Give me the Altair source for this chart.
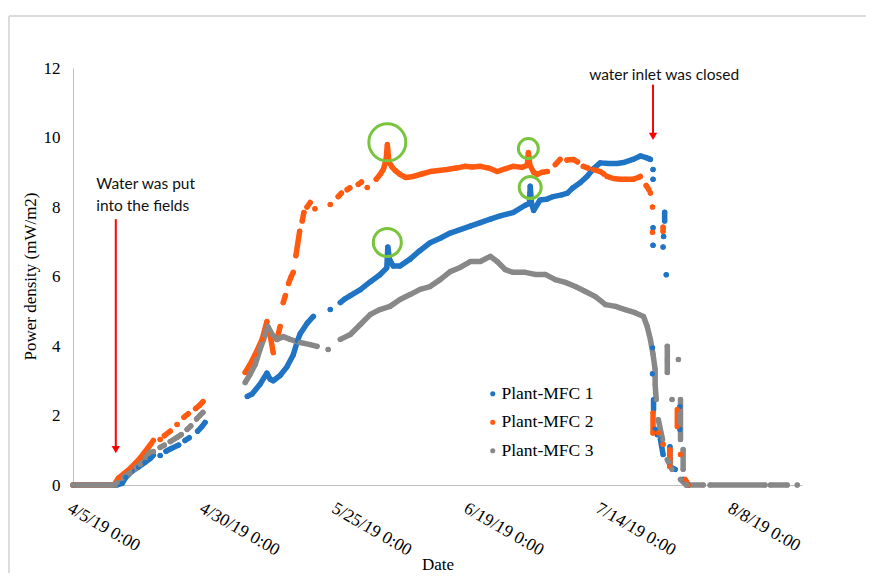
import altair as alt
import pandas as pd

BASE = pd.Timestamp("2019-04-05", tz="UTC")
series_names = ["Plant-MFC 1", "Plant-MFC 2", "Plant-MFC 3"]
series_colors = ["#1f74c4", "#ff5a10", "#888888"]

tick_dates = ["2019-04-05", "2019-04-30", "2019-05-25", "2019-06-19", "2019-07-14", "2019-08-08"]
y_ticks = [0, 2, 4, 6, 8, 10, 12]

# (day offset from 4/5/19, power density) grouped into contiguous runs of points
mfc1_runs = [
    [(0, 0), (7.8, 0)],
    [(8.3, 0), (9.3, 0.05), (10.0, 0.22), (11.2, 0.4), (12.4, 0.52), (13.6, 0.65), (14.6, 0.76), (15.2, 0.86)],
    [(16.5, 0.85)],
    [(17.6, 0.97), (18.6, 1.05), (20.0, 1.15)],
    [(21.2, 1.28), (22.0, 1.36)],
    [(23.6, 1.55), (24.4, 1.68), (25.0, 1.8)],
    [(33.0, 2.55), (33.9, 2.62), (35.4, 2.9), (36.7, 3.22), (37.3, 3.05), (37.9, 3.0), (39.2, 3.15),
     (40.5, 3.4), (41.7, 3.75), (42.5, 4.15), (43.0, 4.35), (44.3, 4.65), (45.5, 4.85)],
    [(48.7, 5.05)],
    [(50.6, 5.25), (51.4, 5.35), (52.5, 5.45), (54.4, 5.62), (56.3, 5.85), (58.1, 6.05), (59.4, 6.25),
     (59.6, 6.85), (59.9, 6.5), (60.6, 6.3), (61.9, 6.3), (63.8, 6.5), (65.7, 6.75), (67.6, 6.97),
     (69.5, 7.1), (71.4, 7.25), (73.3, 7.35), (75.2, 7.45), (77.1, 7.55), (79.0, 7.65), (81.0, 7.75),
     (83.3, 7.84), (85.6, 8.05), (86.4, 8.1), (86.55, 8.6), (86.8, 8.1), (87.2, 7.9), (88.4, 8.2),
     (89.6, 8.22), (90.9, 8.3), (92.5, 8.35), (93.6, 8.4), (94.6, 8.55), (96.0, 8.7), (97.3, 8.88),
     (98.5, 9.1), (99.8, 9.27), (101.5, 9.25), (103.0, 9.25), (104.2, 9.28), (106.0, 9.37),
     (107.4, 9.47), (108.5, 9.42), (109.3, 9.37)],
    [(109.8, 9.08)], [(109.8, 8.8)], [(109.8, 7.4)], [(109.8, 6.9)], [(112.0, 7.85), (112.0, 7.6)],
    [(111.8, 7.15)], [(111.7, 6.85)], [(112.3, 6.05)],
    [(109.7, 3.95)], [(109.7, 3.2)], [(109.9, 2.45), (109.9, 2.17)], [(110.2, 1.6), (110.6, 1.45)],
    [(111.2, 1.31), (111.7, 0.88)], [(113.0, 1.1), (113.0, 0.53), (114.0, 0.45)],
    [(114.9, 2.26), (114.9, 1.6)], [(115.5, 0.16), (116.5, 0)],
]

mfc2_runs = [
    [(0, 0), (7.8, 0)],
    [(8.0, 0.05), (8.6, 0.2), (10.8, 0.47), (12.7, 0.77), (14.6, 1.15), (15.2, 1.28)],
    [(16.5, 1.31)],
    [(17.3, 1.42), (18.4, 1.55)],
    [(19.7, 1.74)],
    [(21.0, 1.95), (21.8, 2.05)],
    [(23.2, 2.2), (24.0, 2.3), (24.6, 2.4)],
    [(32.6, 3.24), (33.5, 3.47), (34.5, 3.76), (35.8, 4.19), (36.7, 4.7)],
    [(37.3, 4.33), (37.9, 3.81)],
    [(38.6, 4.19), (39.2, 4.56)],
    [(39.8, 5.25), (40.2, 5.45)],
    [(40.8, 5.8), (41.3, 6.0), (41.7, 6.12)],
    [(42.2, 6.6), (42.5, 6.9), (42.9, 7.3)],
    [(43.4, 7.6), (43.7, 7.84)],
    [(44.3, 8.0), (44.9, 8.13)],
    [(45.8, 7.95)],
    [(48.7, 8.07)],
    [(50.2, 8.3), (50.8, 8.4)],
    [(51.9, 8.5), (52.4, 8.55)],
    [(54.0, 8.65), (54.6, 8.72)],
    [(55.7, 8.56)],
    [(57.4, 8.8), (58.2, 8.95), (58.8, 9.1), (59.3, 9.4), (59.5, 9.8), (59.8, 9.3), (60.4, 9.15),
     (61.0, 9.05), (61.9, 8.94), (63.0, 8.85), (64.4, 8.88), (66.0, 8.95), (67.6, 9.02), (69.2, 9.05),
     (70.8, 9.08), (72.5, 9.12), (74.2, 9.17), (75.6, 9.15), (77.1, 9.17), (78.7, 9.12), (80.3, 9.02),
     (81.8, 9.1), (83.3, 9.17), (85.0, 9.14), (86.0, 9.2), (86.2, 9.57), (86.5, 9.2), (87.2, 9.0),
     (87.9, 8.94), (88.8, 9.0), (89.8, 9.02)],
    [(91.3, 9.22), (92.2, 9.37)],
    [(93.5, 9.35), (94.7, 9.37), (95.5, 9.3)],
    [(96.6, 9.17), (97.5, 9.12)],
    [(98.5, 9.08), (99.8, 9.02), (100.5, 8.95)],
    [(101.1, 8.88), (102.3, 8.82), (103.6, 8.8), (104.8, 8.8), (106.1, 8.8), (107.0, 8.85), (107.4, 8.88)],
    [(108.5, 8.62), (109.0, 8.5)],
    [(109.3, 8.4)], [(109.7, 8.0)], [(109.7, 7.27)], [(111.7, 7.42), (111.7, 7.3)],
    [(109.8, 2.08), (109.8, 1.5)], [(110.8, 1.5)], [(111.7, 1.17)], [(113.0, 1.02), (113.0, 0.53)],
    [(114.4, 2.17), (114.4, 1.68)], [(115.0, 0.88)], [(115.9, 0.16), (116.5, 0)],
]

mfc3_runs = [
    [(0, 0), (7.6, 0)],
    [(8.0, 0), (8.3, 0.07), (10.8, 0.36), (12.7, 0.59), (14.6, 0.94), (15.2, 0.96)],
    [(16.5, 1.08), (17.3, 1.15)],
    [(18.4, 1.25), (19.7, 1.37), (20.5, 1.45)],
    [(21.6, 1.6), (22.3, 1.7)],
    [(23.4, 1.9), (24.0, 2.0), (24.6, 2.09)],
    [(32.6, 2.95), (33.5, 3.18), (34.5, 3.47), (35.4, 3.9), (36.4, 4.33), (36.9, 4.56), (37.7, 4.33),
     (38.6, 4.19), (39.8, 4.27), (41.1, 4.19), (43.0, 4.1), (44.9, 4.04), (46.2, 3.99)],
    [(48.3, 3.9)],
    [(50.6, 4.19), (52.5, 4.33), (54.4, 4.62), (56.3, 4.91), (58.1, 5.05), (60.0, 5.14), (61.9, 5.34),
     (63.8, 5.48), (65.7, 5.63), (67.6, 5.71), (69.5, 5.91), (71.4, 6.14), (73.3, 6.26), (75.2, 6.43),
     (77.1, 6.43), (79.0, 6.58), (80.3, 6.43), (81.8, 6.2), (83.3, 6.12), (85.6, 6.12), (87.5, 6.06),
     (89.4, 6.06), (91.3, 5.91), (93.2, 5.83), (95.1, 5.71), (97.0, 5.57), (98.9, 5.42), (100.8, 5.19),
     (102.7, 5.14), (104.5, 5.05), (106.4, 4.96), (108.0, 4.85), (108.7, 4.56), (109.3, 4.19),
     (109.8, 3.76), (110.2, 3.32), (110.2, 2.89), (110.4, 2.46)],
    [(110.8, 1.88), (111.6, 1.31)], [(112.5, 0.73), (113.4, 0.45)], [(115.0, 0.16), (116.1, 0)],
    [(112.5, 3.99), (112.5, 3.6), (112.5, 3.24)], [(114.6, 3.61)], [(113.4, 2.46)],
    [(115.0, 2.46), (115.0, 1.9), (115.0, 1.31)], [(115.5, 1.02), (115.5, 0.45)],
    [(116.1, 0), (119.3, 0)], [(120.6, 0), (131.0, 0)], [(132.0, 0), (135.2, 0)], [(137.1, 0)],
]

# annotations: green highlight rings (day, value, ring diameter in px)
ring_day = [59.5, 59.5, 86.2, 86.55]
ring_val = [9.86, 6.98, 9.68, 8.56]
ring_diam = [37, 28, 20, 22]

# red arrows (day, top value, tip value)
arrow_day = [8.1, 109.8]
arrow_top = [7.65, 11.52]
arrow_tip = [1.02, 10.03]

# text notes
note_text = ["Water was put", "into the fields", "water inlet was closed"]
note_day = [4.4, 4.4, 111.9]
note_val = [8.65, 8.02, 11.81]
note_align = ["left", "left", "center"]


def iso(day):
    return (BASE + pd.to_timedelta(day, unit="D")).strftime("%Y-%m-%dT%H:%M:%SZ")


rows = []
for name, runs in zip(series_names, [mfc1_runs, mfc2_runs, mfc3_runs]):
    for i, run in enumerate(runs):
        for d, v in run:
            rows.append({"Series": name, "run": f"{name}-{i}", "Date": iso(d), "Power": v})
df = pd.DataFrame(rows)

rings = pd.DataFrame({"Date": [iso(d) for d in ring_day], "Power": ring_val,
                      "size": [dd * dd for dd in ring_diam]})
arrows = pd.DataFrame({"Date": [iso(d) for d in arrow_day], "top": arrow_top, "tip": arrow_tip})
notes = pd.DataFrame({"Date": [iso(d) for d in note_day], "Power": note_val,
                      "text": note_text, "align": note_align})


def dt(s):
    y, m, d = (int(p) for p in s.split("-"))
    return alt.DateTime(year=y, month=m, date=d, utc=True)


SERIF = "Liberation Serif, Times New Roman, serif"

x_scale = alt.Scale(type="utc", domain=[dt("2019-04-05"), dt("2019-08-21")])
y_scale = alt.Scale(domain=[0, 12], nice=False)
color_scale = alt.Scale(domain=series_names, range=series_colors)

x_axis = alt.Axis(
    values=[dt(s) for s in tick_dates],
    labelExpr="utcFormat(datum.value, '%-m/%-d/%y %-H:%M')",
    labelAngle=30, labelAlign="left", labelBaseline="top", labelPadding=14,
    labelFont=SERIF, labelFontSize=17.5, labelColor="#000000",
    ticks=False, grid=False, domainColor="#bfbfbf", labelOverlap=False,
    title="Date", titleFont=SERIF, titleFontSize=17, titleFontWeight="normal",
    titleColor="#000000", titleY=79, titleBaseline="middle",
)
y_axis = alt.Axis(
    values=y_ticks, labelFont=SERIF, labelFontSize=17, labelColor="#000000",
    labelPadding=13, ticks=False, grid=False, domainColor="#bfbfbf",
    title="Power density (mW/m2)", titleFont=SERIF, titleFontSize=17,
    titleFontWeight="normal", titleColor="#000000", titleX=-43, titleY=208,
    titleBaseline="middle", titleAlign="center",
)

X = alt.X("Date:T", scale=x_scale, axis=x_axis)
Y = alt.Y("Power:Q", scale=y_scale, axis=y_axis)

# one line layer per series (fixed colour) so the legend comes only from the points
line_layers = [
    alt.Chart(df[df["Series"] == name]).mark_line(
        strokeWidth=5.5, strokeCap="round", strokeJoin="round", color=col
    ).encode(x=X, y=Y, detail="run:N")
    for name, col in zip(series_names, series_colors)
]

points = alt.Chart(df).mark_circle(size=26, opacity=1).encode(
    x=X, y=Y,
    color=alt.Color("Series:N", scale=color_scale, legend=alt.Legend(
        title=None, orient="none", legendX=411, legendY=317, symbolType="circle",
        symbolSize=26, labelFont=SERIF, labelFontSize=17.5, labelColor="#000000",
        labelOffset=0, rowPadding=9.5, padding=0)),
)

ring_layer = alt.Chart(rings).mark_point(shape="circle", filled=False, color="#78c43c",
                                         strokeWidth=3, opacity=1).encode(
    x="Date:T", y="Power:Q", size=alt.Size("size:Q", scale=None))

arrow_lines = alt.Chart(arrows).mark_rule(color="#ff0000", strokeWidth=2).encode(
    x="Date:T", y="top:Q", y2="tip:Q")
arrow_heads = alt.Chart(arrows).mark_point(shape="triangle-down", filled=True, color="#ff0000",
                                           size=70, opacity=1).encode(
    x="Date:T", y="tip:Q")

notes_left = alt.Chart(notes[notes["align"] == "left"]).mark_text(
    align="left", baseline="middle", font="Lato", fontSize=15.5, color="#111111").encode(
    x="Date:T", y="Power:Q", text="text:N")
notes_center = alt.Chart(notes[notes["align"] == "center"]).mark_text(
    align="center", baseline="middle", font="Lato", fontSize=15.5, color="#111111").encode(
    x="Date:T", y="Power:Q", text="text:N")

one = pd.DataFrame({"k": [0]})
frame_top = alt.Chart(one).mark_rule(color="#d0d0d0", strokeWidth=1.5).encode(
    x=alt.value(-64), x2=alt.value(900), y=alt.value(-52))
frame_left = alt.Chart(one).mark_rule(color="#d0d0d0", strokeWidth=1.5).encode(
    x=alt.value(-64), y=alt.value(-52), y2=alt.value(560))

chart = alt.layer(
    frame_top, frame_left, *line_layers, points, ring_layer, arrow_lines, arrow_heads,
    notes_left, notes_center,
).properties(
    width=729, height=417,
    padding={"left": 65, "top": 60, "right": 64, "bottom": 88},
    autosize=alt.AutoSizeParams(type="none"),
    background="#ffffff",
).configure_view(stroke=None).configure_legend(
    labelFont=SERIF, labelFontSize=17.5, labelColor="#000000"
)

chart.save("out.html", embed_options={"renderer": "svg", "actions": False})
